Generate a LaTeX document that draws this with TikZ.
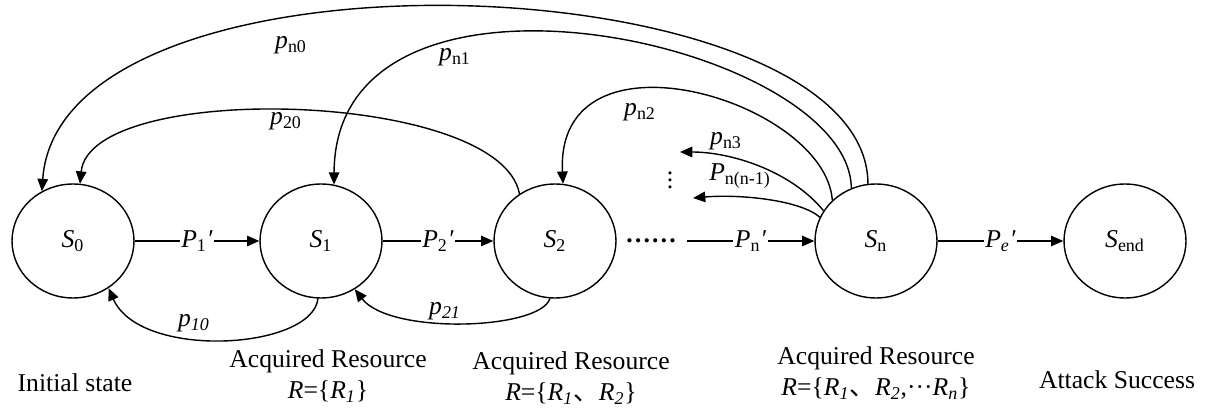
\documentclass[tikz,border=0pt]{standalone}
\usepackage{tikz}
\usepackage{fontspec}
\setmainfont{Liberation Serif}
\newfontfamily\cjk{Noto Sans CJK SC}
\usetikzlibrary{shapes.geometric, arrows.meta}

\begin{document}
\begin{tikzpicture}[x=0.02cm, y=-0.02cm,
    every node/.style={font=\fontsize{14.6}{17.6}\selectfont},
    state/.style={draw, ellipse, line width=0.8pt, minimum width=2.44cm, minimum height=2.28cm, inner sep=0pt},
    arr/.style={-{Triangle[length=7pt, width=6pt]}, line width=0.8pt},
    lab/.style={fill=white, inner sep=1pt}]

\useasboundingbox (0, 0) rectangle (1210, 408);

% 定义节点
\node[state] (s0) at (73, 241) {\textit{S}\textsubscript{0}};
\node[state] (s1) at (321, 241) {\textit{S}\textsubscript{1}};
\node[state] (s2) at (555, 241) {\textit{S}\textsubscript{2}};
\node[state] (sn) at (876, 241) {\textit{S}\textsubscript{n}};
\node[state] (se) at (1125, 241) {\textit{S}\textsubscript{end}};
\node (dots) at (651, 241) {\bfseries ……};
\coordinate (cn) at (687, 241);
\coordinate (a3) at (680, 152);
\coordinate (a4) at (693, 198);

% 连接节点
\draw[arr] (s0) -- (s1) node[lab, midway] {\textit{P}\textsubscript{1}\textit{′}};
\draw[arr] (s1) -- (s2) node[lab, midway] {\textit{P}\textsubscript{2}\textit{′}};
\draw[arr] (cn) -- (sn) node[lab, midway] {\textit{P}\textsubscript{n}\textit{′}};
\draw[arr] (sn) -- (se) node[lab, midway] {\textit{P}\textsubscript{\textit{e}}\textit{′}};

% 回退
\draw[arr] (sn.98) .. controls (867, -37) and (60, -69) .. (s0.122);
\draw[arr] (sn.115) .. controls (849, 42) and (335, -70) .. (s1.77);
\draw[arr] (s2.127) .. controls (500, 90) and (90, 80) .. (s0.83);
\draw[arr] (sn.137) .. controls (825, 100) and (555, 20) .. (s2.82);
\draw[arr] (sn.150) .. controls (790, 170) and (730, 152) .. (a3);
\draw[arr] (sn.157) .. controls (800, 200) and (740, 194) .. (a4);
\draw[arr] (s1.267) .. controls (312, 350) and (140, 360) .. (s0.307);
\draw[arr] (s2.265) .. controls (540, 330) and (390, 335) .. (s1.305);

% 标签
\node (ln0) at (291, 45) {\textit{p}\textsubscript{n0}};
\node (ln1) at (455, 57) {\textit{p}\textsubscript{n1}};
\node (l20) at (286, 121) {\textit{p}\textsubscript{20}};
\node (ln2) at (640, 112) {\textit{p}\textsubscript{n2}};
\node (ln3) at (726, 141) {\textit{p}\textsubscript{n3}};
\node (lnn) at (740, 176) {\textit{P}\textsubscript{n(n-1)}};
\node (vd) at (670, 175) {$\vdots$};
\node (l10) at (194, 323) {\textit{p}\textsubscript{\textit{10}}};
\node (l21) at (445, 311) {\textit{p}\textsubscript{\textit{21}}};

% 说明
\node (t0) at (75, 383) {Initial state};
\node[align=center] (t1) at (328, 376) {Acquired Resource\\\textit{R}=\{\textit{R}\textsubscript{\textit{1}}\}};
\node[align=center] (t2) at (571, 378) {Acquired Resource\\\textit{R}=\{\textit{R}\textsubscript{\textit{1}}{\cjk 、}\textit{R}\textsubscript{\textit{2}}\}};
\node[align=center] (t3) at (876, 373) {Acquired Resource\\\textit{R}=\{\textit{R}\textsubscript{\textit{1}}{\cjk 、}\textit{R}\textsubscript{\textit{2}},···\textit{R}\textsubscript{\textit{n}}\}};
\node (t4) at (1117, 380) {Attack Success};

\end{tikzpicture}
\end{document}
